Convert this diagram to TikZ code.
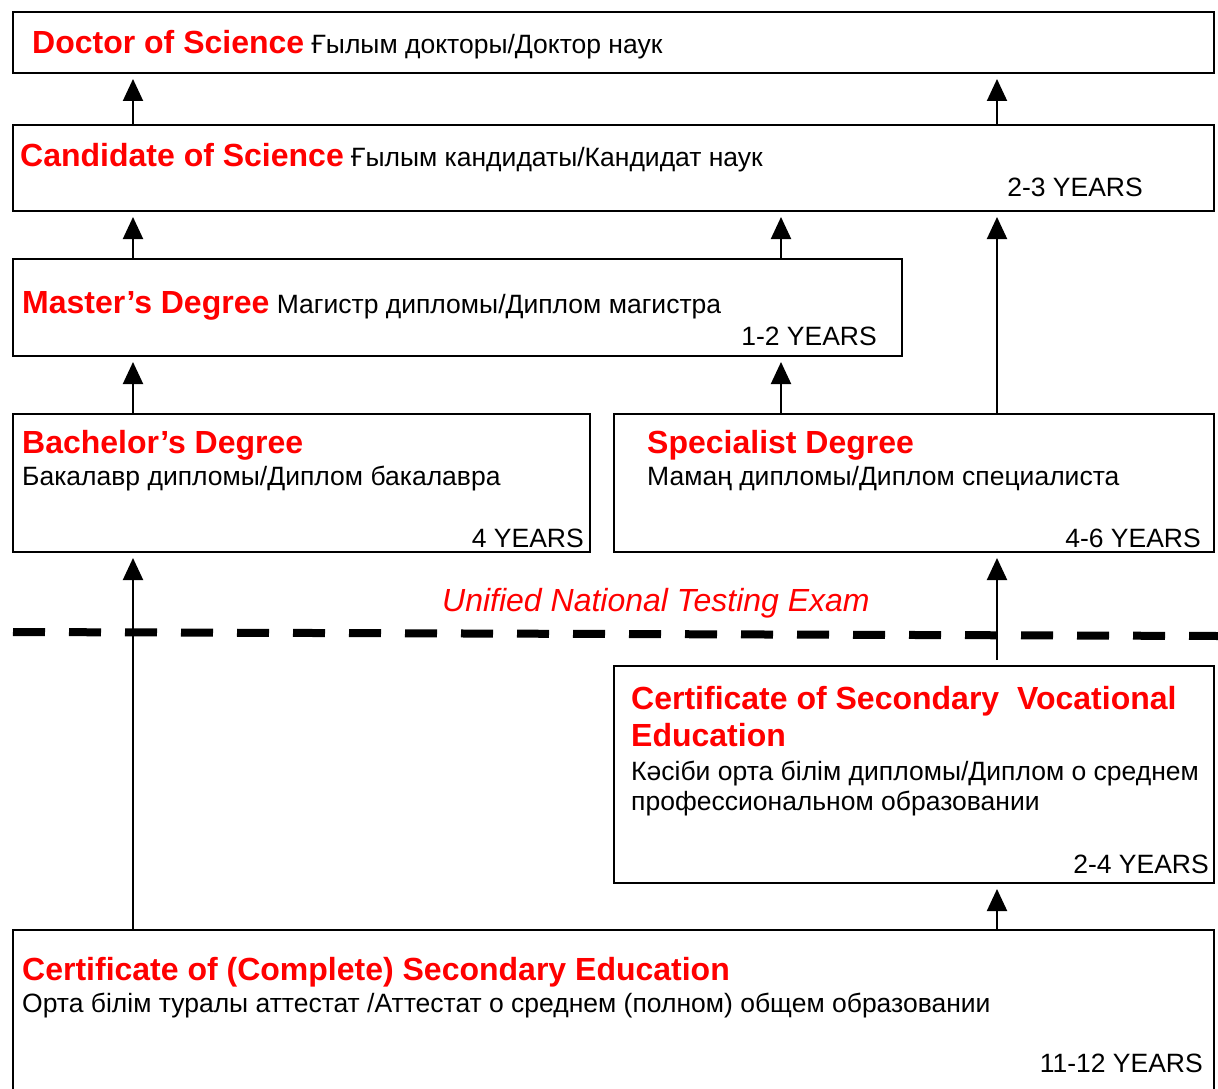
\documentclass[tikz,border=0pt]{standalone}
\usepackage{fontspec}
\setmainfont{Liberation Sans}
\usepackage{tikz}
\usetikzlibrary{arrows.meta}
\newcommand{\degfont}{\fontsize{32}{37}\selectfont\bfseries\color{red}}
\newcommand{\txtfont}{\fontsize{26.5}{30}\selectfont}
\tikzstyle{box}=[draw, line width=2pt, rectangle, inner sep=0pt, anchor=north west]
\tikzstyle{arrow}=[draw=black, line width=2pt, -{Triangle[length=22pt, width=20pt]}, shorten >=5pt]
\tikzstyle{txt}=[anchor=base west, inner sep=0pt, font=\txtfont]
\tikzstyle{years}=[anchor=base east, inner sep=0pt, font=\txtfont]
\tikzstyle{examline}=[draw=black, line width=8pt, dash pattern=on 32pt off 24pt]

\begin{document}
\begin{tikzpicture}[x=1pt, y=-1pt]
	\useasboundingbox (0,0) rectangle (1218,1089);
	\begin{scope}
		% boxes
		\node[box, minimum width=1201pt, minimum height=61pt] (doc) at (12,11) {};
		\node[box, minimum width=1201pt, minimum height=86pt] (cand) at (12,124) {};
		\node[box, minimum width=889pt, minimum height=97pt] (mast) at (12,258) {};
		\node[box, minimum width=577pt, minimum height=138pt] (bach) at (12,413) {};
		\node[box, minimum width=600pt, minimum height=138pt] (spec) at (613,413) {};
		\node[box, minimum width=600pt, minimum height=217pt] (voc) at (613,665) {};
		\node[box, minimum width=1201pt, minimum height=200pt] (sec) at (12,929) {};

		% texts
		\node[txt] (doct) at (32,54) {{\degfont Doctor of Science} Ғылым докторы/Доктор наук};
		\node[txt] (candt) at (20,166) {{\degfont Candidate of Science} Ғылым кандидаты/Кандидат наук};
		\node[years] (candy) at (1143,196) {2-3 YEARS};
		\node[txt] (mastt) at (22,313) {{\degfont Master’s Degree} Магистр дипломы/Диплом магистра};
		\node[years] (masty) at (877,345) {1-2 YEARS};
		\node[txt] (bacht) at (22,453) {\degfont Bachelor’s Degree};
		\node[txt] (bachs) at (22,485) {Бакалавр дипломы/Диплом бакалавра};
		\node[years] (bachy) at (584,547) {4 YEARS};
		\node[txt] (spect) at (647,453) {\degfont Specialist Degree};
		\node[txt] (specs) at (647,485) {Мамаң дипломы/Диплом специалиста};
		\node[years] (specy) at (1201,547) {4-6 YEARS};
		\node[txt] (exam) at (442,611) {\fontsize{32}{37}\selectfont\itshape\color{red}Unified National Testing Exam};
		\node[txt] (voct1) at (631,709) {\degfont Certificate of Secondary\ \ Vocational};
		\node[txt] (voct2) at (631,746) {\degfont Education};
		\node[txt] (vocs1) at (631,780) {Кәсіби орта білім дипломы/Диплом о среднем};
		\node[txt] (vocs2) at (631,810) {профессиональном образовании};
		\node[years] (vocy) at (1209,873) {2-4 YEARS};
		\node[txt] (sect) at (22,980) {\degfont Certificate of (Complete) Secondary Education};
		\node[txt] (secs) at (22,1012) {Орта білім туралы аттестат /Аттестат о среднем (полном) общем образовании};
		\node[years] (secy) at (1203,1072) {11-12 YEARS};

		\coordinate (c1) at (133,0);
		\coordinate (c2) at (781,0);
		\coordinate (c3) at (997,0);
		\coordinate (dl) at (13,632);
		\coordinate (dr) at (1218,636);
	\end{scope}
	\begin{scope}
		\path[examline] (dl) -- (dr);

		\path[arrow] (cand.north -| c1) -- (doc.south -| c1);
		\path[arrow] (cand.north -| c3) -- (doc.south -| c3);
		\path[arrow] (mast.north -| c1) -- (cand.south -| c1);
		\path[arrow] (mast.north -| c2) -- (cand.south -| c2);
		\path[arrow] (spec.north -| c3) -- (cand.south -| c3);
		\path[arrow] (bach.north -| c1) -- (mast.south -| c1);
		\path[arrow] (spec.north -| c2) -- (mast.south -| c2);
		\path[arrow] (sec.north -| c1) -- (bach.south -| c1);
		\path[arrow] ([yshift=5pt]voc.north -| c3) -- (spec.south -| c3);
		\path[arrow] (sec.north -| c3) -- (voc.south -| c3);
	\end{scope}
\end{tikzpicture}
\end{document}
